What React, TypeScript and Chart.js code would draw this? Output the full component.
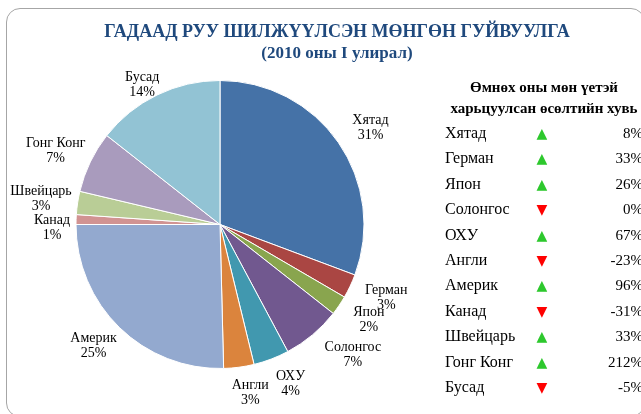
import { useEffect, useRef } from "react";
import { Chart, registerables } from "chart.js";

Chart.register(...registerables);

const titleLines = ["ГАДААД РУУ ШИЛЖҮҮЛСЭН МӨНГӨН ГУЙВУУЛГА", "(2010 оны I улирал)"];
const categories = ["Хятад", "Герман", "Япон", "Солонгос", "ОХУ", "Англи", "Америк", "Канад", "Швейцарь", "Гонг Конг", "Бусад"];
const shares = [30.7, 2.7, 2.2, 6.6, 4.0, 3.4, 25.4, 1.1, 2.6, 6.9, 14.4];
const shareLabels = ["31%", "3%", "2%", "7%", "4%", "3%", "25%", "1%", "3%", "7%", "14%"];
const colors = ["#4572A7", "#AA4643", "#89A54E", "#71588F", "#4198AF", "#DB843D", "#93A9CF", "#D19392", "#B9CD96", "#A99BBD", "#92C3D4"];
const tableHeader = ["Өмнөх оны мөн үетэй", "харьцуулсан өсөлтийн хувь"];
const growth = [8, 33, 26, 0, 67, -23, 96, -31, 33, 212, -5];
const growthUp = [true, true, true, false, true, false, true, false, true, true, false];

const SERIF = '"Liberation Serif", "DejaVu Serif", serif';

const clamp1 = (v: number) => Math.max(-1, Math.min(1, v));

const labelPlugin = {
  id: "outsideLabels",
  afterDatasetsDraw(chart: any) {
    const ctx = chart.ctx;
    const meta = chart.getDatasetMeta(0);
    ctx.save();
    ctx.font = `14px ${SERIF}`;
    ctx.fillStyle = "#000";
    ctx.textAlign = "center";
    ctx.textBaseline = "middle";
    const lineH = 15;
    const gap = 11;
    const insetX = 5; // text box inset (labels sit a little right of their box)
    const labelTopLimit = 70; // keep labels below the title block
    const items: any[] = [];
    meta.data.forEach((arc: any, i: number) => {
      const { x, y, startAngle, endAngle, outerRadius } = arc.getProps(["x", "y", "startAngle", "endAngle", "outerRadius"], true);
      const a = (startAngle + endAngle) / 2;
      const lines = [categories[i], shareLabels[i]];
      const w = Math.max(...lines.map((l) => ctx.measureText(l).width));
      const h = lineH * lines.length;
      const c = Math.cos(a);
      const s = Math.sin(a);
      const lx = x + c * (outerRadius + gap) + clamp1(2 * c) * w / 2 + insetX;
      let ly = y + s * (outerRadius + gap) + s * h / 2;
      if (ly - h / 2 < labelTopLimit) ly = labelTopLimit + h / 2;
      items.push({ lines, w, h, left: c < 0, tiny: shares[i] < 2, x: lx, y: ly });
    });
    // labels of very small slices are moved away from their neighbours
    [true, false].forEach((side) => {
      const group = items.filter((it) => it.left === side).sort((p, q) => p.y - q.y);
      for (let k = 1; k < group.length; k++) {
        const prev = group[k - 1];
        const cur = group[k];
        if (!prev.tiny && !cur.tiny) continue;
        const xOverlap = Math.abs(prev.x - cur.x) < (prev.w + cur.w) / 2;
        const minGap = (prev.h + cur.h) / 2 - 1;
        if (xOverlap && cur.y - prev.y < minGap) cur.y = prev.y + minGap;
      }
    });
    items.forEach((it) => {
      it.lines.forEach((l: string, k: number) => {
        ctx.fillText(l, it.x, it.y + (k - (it.lines.length - 1) / 2) * lineH);
      });
    });
    ctx.restore();
  },
};

export default function App() {
  const ref = useRef<HTMLCanvasElement | null>(null);
  useEffect(() => {
    if (!ref.current) return;
    const chart = new Chart(ref.current, {
      type: "pie",
      data: {
        labels: categories,
        datasets: [
          {
            data: shares,
            backgroundColor: colors,
            borderColor: "#ffffff",
            borderWidth: 1,
          },
        ],
      },
      options: {
        animation: false,
        responsive: false,
        layout: { padding: { left: 75, right: 276, top: 80, bottom: 45 } },
        plugins: {
          legend: { display: false },
          tooltip: { enabled: false },
          title: { display: false },
        },
      },
      plugins: [labelPlugin],
    });
    return () => chart.destroy();
  }, []);

  const rowTop = 133;
  const rowStep = 25.4;

  return (
    <div style={{ position: "absolute", left: 0, top: 0, width: 641, height: 414, overflow: "hidden", background: "#fff", fontFamily: SERIF }}>
      <div
        style={{
          position: "absolute",
          left: 6,
          top: 8,
          width: 639,
          height: 409,
          border: "1.5px solid #A6A6A6",
          borderRadius: 14,
          boxSizing: "border-box",
        }}
      />
      <canvas ref={ref} width={641} height={414} style={{ position: "absolute", left: 0, top: 0 }} />
      <div
        style={{
          position: "absolute",
          left: 0,
          width: 674,
          top: 21,
          textAlign: "center",
          fontWeight: "bold",
          lineHeight: "21px",
          color: "#1F497D",
          whiteSpace: "nowrap",
        }}
      >
        <div style={{ fontSize: 18 }}>{titleLines[0]}</div>
        <div style={{ fontSize: 17 }}>{titleLines[1]}</div>
      </div>
      <div
        style={{
          position: "absolute",
          left: 444,
          width: 200,
          top: 77,
          textAlign: "center",
          fontWeight: "bold",
          fontSize: 15,
          lineHeight: "21px",
          color: "#000",
          whiteSpace: "nowrap",
        }}
      >
        {tableHeader.map((t, i) => (
          <div key={i}>{t}</div>
        ))}
      </div>
      {categories.map((c, i) => {
        const cy = rowTop + i * rowStep;
        return (
          <div key={c}>
            <div style={{ position: "absolute", left: 445, top: cy - 10, fontSize: 16, lineHeight: "20px", whiteSpace: "nowrap" }}>{c}</div>
            <div
              style={{
                position: "absolute",
                left: 530,
                width: 24,
                top: cy - 9,
                textAlign: "center",
                fontSize: 14,
                lineHeight: "18px",
                fontFamily: '"DejaVu Sans", sans-serif',
                color: growthUp[i] ? "#2DC82D" : "#FF0000",
              }}
            >
              {growthUp[i] ? "▲" : "▼"}
            </div>
            <div
              style={{
                position: "absolute",
                left: 560,
                width: 83,
                top: cy - 10,
                textAlign: "right",
                fontSize: 15,
                lineHeight: "20px",
                whiteSpace: "nowrap",
              }}
            >
              {`${growth[i]}%`}
            </div>
          </div>
        );
      })}
    </div>
  );
}
